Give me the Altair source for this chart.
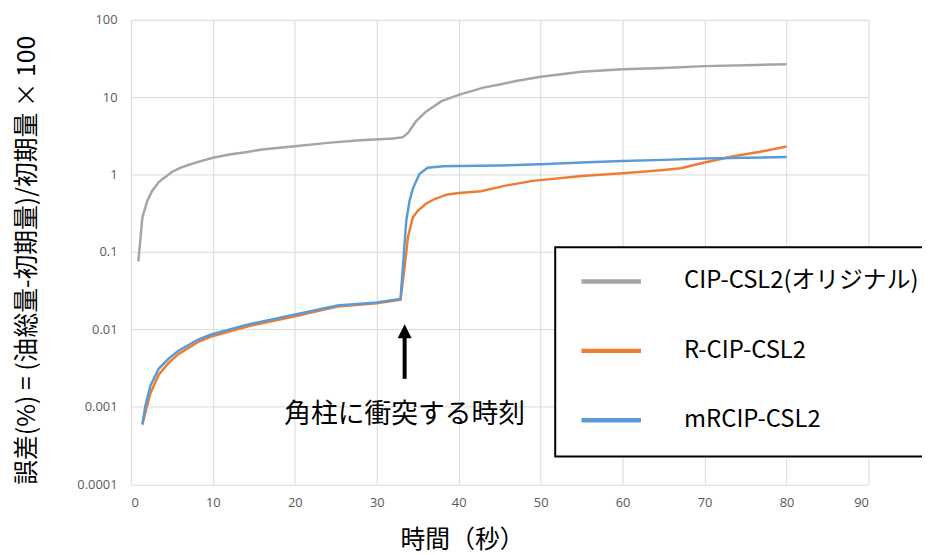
import altair as alt
import pandas as pd

series_names = ["CIP-CSL2(オリジナル)", "R-CIP-CSL2", "mRCIP-CSL2"]
series_colors = ["#a5a5a5", "#ed7d31", "#5b9bd5"]

cip_t = [0.9, 1.4, 2.0, 2.6, 3.4, 4.0, 5.0, 6.0, 7.0, 8.0, 10, 12, 14, 16, 20, 24, 28, 32,
         33.2, 33.8, 34.8, 36, 37.9, 40, 43, 45, 47, 50, 55, 60, 65, 70, 75, 80]
cip_v = [0.075, 0.28, 0.46, 0.62, 0.80, 0.90, 1.08, 1.22, 1.33, 1.44, 1.65, 1.82, 1.95, 2.11,
         2.33, 2.57, 2.78, 2.93, 3.05, 3.45, 4.9, 6.5, 8.9, 10.7, 13.3, 14.6, 16.2, 18.4, 21.3,
         22.9, 23.9, 25.2, 25.9, 26.7]

rcip_t = [1.4, 1.77, 2.38, 3.39, 4.6, 5.8, 8.2, 9.8, 14.3, 19.9, 25.2, 30, 32.9, 33.4, 33.8,
          34.4, 35.0, 36, 37, 38.5, 40, 42.7, 45.7, 49, 55, 60, 64.7, 67.1, 70, 73.5, 76.8, 80]
rcip_v = [0.00059, 0.00085, 0.0015, 0.0026, 0.0037, 0.0048, 0.0069, 0.0081, 0.011, 0.0147,
          0.0197, 0.0217, 0.0243, 0.064, 0.155, 0.28, 0.34, 0.42, 0.48, 0.55, 0.58, 0.61, 0.72,
          0.83, 0.96, 1.04, 1.14, 1.21, 1.43, 1.73, 1.97, 2.31]

mrcip_t = [1.4, 1.77, 2.38, 3.39, 4.6, 5.8, 8.2, 9.8, 14.3, 19.9, 25.2, 30, 32.9, 33.6, 34.0,
           34.4, 35.2, 36.2, 38.1, 40, 45, 50, 55, 60, 65, 70, 75, 80]
mrcip_v = [0.00059, 0.00104, 0.00188, 0.0031, 0.0042, 0.0053, 0.0074, 0.0086, 0.0116, 0.0155,
           0.0204, 0.0223, 0.0248, 0.255, 0.46, 0.66, 1.02, 1.23, 1.28, 1.29, 1.31, 1.36, 1.43,
           1.50, 1.55, 1.61, 1.65, 1.69]

x_ticks = [0, 10, 20, 30, 40, 50, 60, 70, 80, 90]
y_ticks = [0.0001, 0.001, 0.01, 0.1, 1, 10, 100]

annot_text = "角柱に衝突する時刻"
annot_t = 33.4
annot_text_v = 0.00078
arrow_v0 = 0.0023
arrow_v1 = 0.0079
arrow_head_v = 0.0095

rows = []
for name, ts, vs in zip(series_names, [cip_t, rcip_t, mrcip_t], [cip_v, rcip_v, mrcip_v]):
    for t, v in zip(ts, vs):
        rows.append({"series": name, "t": t, "v": v})
df = pd.DataFrame(rows)

JP = "Noto Sans CJK JP"

xscale = alt.Scale(domain=[0, 90], nice=False)
yscale = alt.Scale(type="log", domain=[0.0001, 100], nice=False)

lines = alt.Chart(df).mark_line(strokeWidth=2.5, clip=True).encode(
    x=alt.X("t:Q", scale=xscale,
            axis=alt.Axis(values=x_ticks, title="時間（秒）", titleX=334, titleY=56,
                          titleBaseline="middle", titleAlign="center")),
    y=alt.Y("v:Q", scale=yscale,
            axis=alt.Axis(values=y_ticks, format=".4~f", title="誤差(%) = (油総量-初期量)/初期量 × 100",
                          titleX=-105, titleY=242, titleAlign="center", titleBaseline="middle",
                          titleAngle=-90)),
    color=alt.Color("series:N",
                    scale=alt.Scale(domain=series_names, range=series_colors),
                    sort=series_names,
                    legend=alt.Legend(title=None, orient="none", legendX=428, legendY=229.5,
                                      symbolType="stroke", symbolSize=3600, symbolStrokeWidth=4.5,
                                      labelFontSize=24, labelFont=JP, labelColor="#000000",
                                      labelOffset=41, rowPadding=45, padding=24, clipHeight=21,
                                      strokeColor="#000000", fillColor="#ffffff",
                                      labelLimit=400)),
)

annot_df = pd.DataFrame({"t": [annot_t], "v": [annot_text_v], "v0": [arrow_v0],
                         "v1": [arrow_v1], "vh": [arrow_head_v], "label": [annot_text]})

text = alt.Chart(annot_df).mark_text(font=JP, fontSize=27, color="#000000", align="center",
                                      baseline="middle").encode(
    x=alt.X("t:Q", scale=xscale), y=alt.Y("v:Q", scale=yscale), text="label:N")

shaft = alt.Chart(annot_df).mark_rule(strokeWidth=4, color="#000000").encode(
    x=alt.X("t:Q", scale=xscale), y=alt.Y("v0:Q", scale=yscale), y2="v1:Q")

head = alt.Chart(annot_df).mark_point(shape="M-1,1L0,-1L1,1Z", filled=True, size=200,
                                      color="#000000", opacity=1).encode(
    x=alt.X("t:Q", scale=xscale), y=alt.Y("vh:Q", scale=yscale))

chart = alt.layer(lines, shaft, head, text).properties(
    width=744, height=468.5,
    padding={"left": 124, "top": 9.5, "right": 54, "bottom": 69},
    autosize=alt.AutoSizeParams(type="none"),
).configure_view(stroke=None).configure_axis(
    grid=True, gridColor="#d9d9d9", gridWidth=1, domain=False, ticks=False,
    labelColor="#595959", labelFontSize=13, labelFont="Open Sans",
    titleFont=JP, titleFontSize=25, titleColor="#000000", titleFontWeight="normal",
).configure_axisX(labelPadding=12).configure_axisY(labelPadding=14).configure_legend(
    strokeWidth=2
)

chart.save("out.html", embed_options={"renderer": "svg", "actions": False})
